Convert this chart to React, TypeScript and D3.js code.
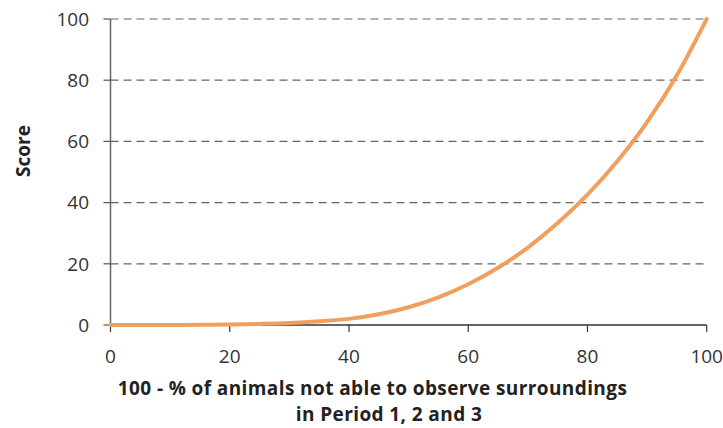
import React from "react";
import * as d3 from "d3";

const xValues = [0, 5, 10, 15, 20, 25, 30, 35, 40, 45, 50, 55, 60, 65, 70, 75, 80, 85, 90, 95, 100];
const scoreValues = [0, 0, 0.01, 0.05, 0.15, 0.35, 0.65, 1.2, 2.0, 3.5, 5.8, 9.0, 13.3, 18.7, 25.3, 33.3, 42.6, 53.5, 66.3, 81.6, 100];
const xTicks = [0, 20, 40, 60, 80, 100];
const yTicks = [0, 20, 40, 60, 80, 100];
const xTitleLines = ["100 - % of animals not able to observe surroundings", "in Period 1, 2 and 3"];
const yTitle = "Score";

const W = 723;
const H = 428;
const font = "'Open Sans', 'Noto Sans', sans-serif";

export default function App() {
  const x = d3.scaleLinear().domain([0, 100]).range([110.5, 706.7]);
  const y = d3.scaleLinear().domain([0, 100]).range([325, 19]);
  const data = xValues.map((v, i) => ({ x: v, y: scoreValues[i] }));
  const line = d3
    .line<{ x: number; y: number }>()
    .x((d) => x(d.x))
    .y((d) => y(d.y))
    .curve(d3.curveMonotoneX);

  const titleCenters = [372.5, 389];
  return (
    <svg width={W} height={H} style={{ position: "absolute", left: 0, top: 0, background: "#fff" }}>
      {yTicks.filter((t) => t > 0).map((t) => (
        <line key={"g" + t} x1={x(0)} x2={x(100)} y1={y(t)} y2={y(t)} stroke="#666" strokeWidth={1.2} strokeDasharray="8,5" />
      ))}
      <line x1={x(0)} x2={x(0)} y1={y(100)} y2={y(0)} stroke="#666" strokeWidth={1.5} />
      <line x1={x(0)} x2={x(100)} y1={y(0)} y2={y(0)} stroke="#333" strokeWidth={1.5} />
      {yTicks.map((t) => (
        <g key={"y" + t}>
          <line x1={x(0) - 7} x2={x(0)} y1={y(t)} y2={y(t)} stroke="#555" strokeWidth={1.2} />
          <text x={89} y={y(t)} dy="0.36em" textAnchor="end" fontFamily={font} fontSize={19} fill="#333">{t}</text>
        </g>
      ))}
      {xTicks.map((t) => (
        <g key={"x" + t}>
          <line x1={x(t)} x2={x(t)} y1={y(0)} y2={y(0) + 7} stroke="#333" strokeWidth={1.2} />
          <text x={x(t)} y={363} textAnchor="middle" fontFamily={font} fontSize={19} fill="#333">{t}</text>
        </g>
      ))}
      <path d={line(data) || ""} fill="none" stroke="#F0A05C" strokeWidth={4} strokeLinecap="round" />
      <text transform={`translate(30,151) rotate(-90)`} textAnchor="middle" fontFamily={font} fontSize={19} fontWeight="bold" fill="#222">{yTitle}</text>
      {xTitleLines.map((s, i) => (
        <text key={s} x={titleCenters[i]} y={395 + i * 26} textAnchor="middle" fontFamily={font} fontSize={19} fontWeight="bold" letterSpacing={0.4} fill="#222">{s}</text>
      ))}
    </svg>
  );
}
